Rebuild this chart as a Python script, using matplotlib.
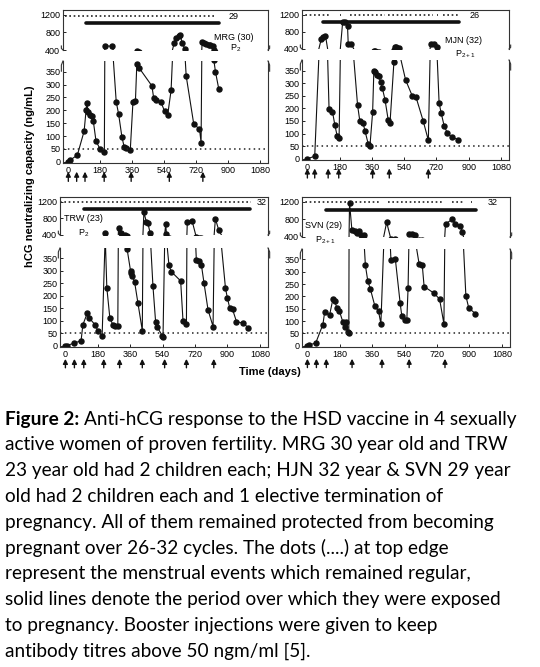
import matplotlib.pyplot as plt

plt.rcParams['font.family'] = ['Liberation Sans', 'DejaVu Sans']
plt.rcParams['mathtext.default'] = 'regular'

# ejes comunes
ticks_x = [0, 180, 360, 540, 720, 900, 1080]
ticks_bajo = [0, 50, 100, 150, 200, 250, 300, 350]
ticks_alto = [400, 800, 1200]

# MRG (30) - P2
mrg_dias = [0, 8, 51, 89, 100, 104, 112, 122, 132, 141, 156, 180, 203, 206, 245,
            270, 283, 302, 315, 325, 349, 364, 378, 386, 401, 471, 481, 494, 522,
            543, 560, 579, 597, 609, 622, 631, 641, 656, 664, 707, 739, 748, 754,
            763, 777, 792, 801, 814, 820, 829, 848]
mrg_vals = [0, 5, 26, 119, 200, 228, 192, 183, 178, 157, 80, 48, 38, 498, 483,
            232, 187, 96, 57, 55, 45, 231, 235, 382, 363, 295, 247, 241, 231,
            196, 183, 278, 566, 679, 717, 732, 566, 430, 334, 145, 128, 74, 581,
            558, 543, 521, 506, 483, 395, 350, 282]
mrg_refuerzos = [0, 47, 94, 202, 354, 569, 758]
mrg_menstruacion = [(-20, 830)]
mrg_expuesta = (100, 848)
mrg_ciclos = "29"

# MJN (32) - P2+1
mjn_dias = [0, 41, 78, 88, 101, 121, 140, 153, 166, 177, 197, 210, 224, 228, 246,
            280, 293, 311, 321, 339, 349, 364, 371, 380, 391, 398, 410, 418, 433,
            451, 461, 483, 487, 497, 510, 548, 586, 606, 647, 675, 688, 707, 722,
            735, 746, 763, 781, 806, 843]
mjn_vals = [0, 10, 640, 672, 712, 196, 187, 135, 91, 82, 1032, 1032, 936, 512, 512,
            213, 148, 141, 112, 60, 50, 184, 350, 343, 334, 327, 304, 281, 235,
            154, 141, 385, 440, 440, 430, 313, 248, 245, 148, 73, 520, 512, 440,
            222, 183, 131, 102, 85, 76]
mjn_refuerzos = [0, 41, 116, 175, 364, 457, 675]
mjn_menstruacion = [(-34, 125), (181, 187), (237, 433), (451, 582), (600, 703),
                    (722, 731), (759, 843)]
mjn_expuesta = (88, 847)
mjn_ciclos = "26"

# TRW (23) - P2
trw_dias = [0, 9, 50, 87, 97, 121, 130, 165, 180, 204, 221, 230, 247, 264, 277,
            291, 295, 310, 329, 343, 362, 366, 371, 384, 403, 427, 436, 449, 458,
            471, 486, 501, 510, 538, 542, 557, 561, 575, 588, 640, 653, 672, 677,
            703, 727, 742, 755, 770, 792, 820, 833, 852, 889, 900, 913, 928, 950,
            987, 1015]
trw_vals = [0, 1, 11, 20, 84, 130, 113, 84, 61, 41, 442, 233, 110, 84, 81,
            80, 568, 442, 408, 386, 299, 290, 280, 257, 170, 61, 947, 720, 678,
            442, 241, 95, 75, 40, 35, 653, 430, 323, 297, 260, 100, 87, 703,
            745, 345, 338, 325, 250, 144, 77, 787, 510, 230, 190, 150, 146, 97,
            90, 73]
trw_refuerzos = [0, 50, 102, 213, 301, 427, 551, 672, 824]
trw_menstruacion = [(-30, 1030)]
trw_expuesta = (102, 1025)
trw_ciclos = "32"

# SVN (29) - P2+1
svn_dias = [0, 7, 46, 86, 96, 123, 142, 151, 164, 178, 197, 206, 217, 224, 230,
            234, 247, 265, 276, 285, 298, 313, 322, 335, 350, 375, 395, 408, 440,
            464, 488, 515, 524, 543, 552, 559, 565, 583, 596, 620, 638, 648, 703,
            734, 758, 767, 804, 822, 850, 859, 880, 896, 933]
svn_vals = [0, 3, 11, 86, 137, 124, 190, 182, 153, 140, 96, 77, 96, 56, 51,
            1184, 560, 530, 480, 545, 450, 440, 326, 264, 229, 160, 140, 89, 735,
            346, 353, 173, 122, 106, 104, 233, 470, 465, 440, 333, 326, 240, 213,
            189, 89, 700, 800, 700, 660, 520, 202, 153, 130]
svn_refuerzos = [0, 50, 105, 248, 414, 565, 764]
svn_menstruacion = [(-33, 224), (243, 408), (445, 758), (804, 868), (909, 915)]
svn_expuesta = (105, 938)
svn_ciclos = "32"

W, H = 540, 667


def caja(l, t, r, b):
    return [l / W, 1 - b / H, (r - l) / W, (b - t) / H]


def marca_corte(ax, y, sentido):
    # pequeñas curvas donde se corta el eje
    for x, s in ((0, -1), (1, 1)):
        ax.plot([x, x + s * 0.008, x + s * 0.008], [y, y + sentido * 0.04, y + sentido * 0.1],
                transform=ax.transAxes, color='#333333', lw=0.8, clip_on=False)


def dibujar_panel(fig, rect_alto, rect_bajo, dias, vals, refuerzos, menstruacion,
                  expuesta, ciclos, y_menst, nombre, pos_nombre, paridad, pos_paridad,
                  flechas):
    ax_a = fig.add_axes(caja(*rect_alto))
    ax_b = fig.add_axes(caja(*rect_bajo))
    for ax in (ax_a, ax_b):
        ax.plot(dias, vals, color='#111111', lw=0.8, marker='o', ms=3.6,
                mfc='#111111', mec='#111111')
        ax.set_xlim(-30, 1125)
        for s in ax.spines.values():
            s.set_linewidth(0.8)
            s.set_color('#333333')
        ax.tick_params(direction='in', length=2, width=0.6, labelsize=6.5, pad=2)
    ax_a.set_ylim(400, 1310)
    ax_a.set_yticks(ticks_alto)
    ax_a.set_xticks([])
    ax_a.spines['bottom'].set_visible(False)
    ax_b.set_ylim(-5, 392)
    ax_b.set_yticks(ticks_bajo)
    ax_b.set_xticks(ticks_x)
    ax_b.spines['top'].set_visible(False)
    marca_corte(ax_a, 0, 1)
    marca_corte(ax_b, 1, -1)

    # umbral de 50 ng/mL
    ax_b.axhline(50, color='#222222', lw=1.1, ls=(0, (1, 2.2)))

    # eventos menstruales y periodo expuesto
    for ini, fin in menstruacion:
        ax_a.plot([ini, fin], [y_menst, y_menst], color='#222222', lw=1.2,
                  ls=(0, (1, 1.6)))
    ax_a.plot(expuesta, [1025, 1025], color='#111111', lw=2.6,
              solid_capstyle='round')
    ax_a.text(ciclos[1], y_menst, ciclos[0], fontsize=6.5, va='center',
              ha='left')
    ax_a.text(pos_nombre[0], pos_nombre[1], nombre, fontsize=6.5, va='center',
              ha='left', clip_on=False)
    ax_a.text(pos_paridad[0], pos_paridad[1], paridad, fontsize=6.5,
              va='center', ha='left', clip_on=False)

    # refuerzos (flechas)
    for d in refuerzos:
        ax_b.annotate('', xy=(d, flechas[0]), xytext=(d, flechas[1]),
                      xycoords=('data', 'axes fraction'),
                      textcoords=('data', 'axes fraction'),
                      arrowprops=dict(arrowstyle='-|>', color='#111111', lw=1.0,
                                      mutation_scale=7, shrinkA=0, shrinkB=0))


fig = plt.figure(figsize=(W / 100, H / 100), dpi=100)

dibujar_panel(fig, (63, 10, 268, 50), (63, 61, 268, 163), mrg_dias, mrg_vals,
              mrg_refuerzos, mrg_menstruacion, mrg_expuesta, (mrg_ciclos, 905),
              1170, "MRG (30)", (820, 680), "P$_2$", (912, 430), (-0.085, -0.18))
dibujar_panel(fig, (302, 10, 509, 49), (302, 60, 509, 160), mjn_dias, mjn_vals,
              mjn_refuerzos, mjn_menstruacion, mjn_expuesta, (mjn_ciclos, 905),
              1190, "MJN (32)", (768, 600), "P$_{2+1}$", (822, 280), (-0.085, -0.18))
dibujar_panel(fig, (60, 197, 268, 235), (60, 248, 268, 347), trw_dias, trw_vals,
              trw_refuerzos, trw_menstruacion, trw_expuesta, (trw_ciclos, 1060),
              1190, "TRW (23)", (-10, 800), "P$_2$", (70, 440), (-0.12, -0.21))
dibujar_panel(fig, (302, 197, 510, 237), (302, 249, 510, 347), svn_dias, svn_vals,
              svn_refuerzos, svn_menstruacion, svn_expuesta, (svn_ciclos, 1000),
              1190, "SVN (29)", (-15, 660), "P$_{2+1}$", (40, 320), (-0.12, -0.21))

fig.text(30 / W, 1 - 176 / H, "hCG neutralizing capacity (ng/mL)", rotation=90,
         ha='center', va='center', fontsize=8, weight='bold')
fig.text(270 / W, 1 - 372 / H, "Time (days)", ha='center', va='center',
         fontsize=8, weight='bold')

# pie de figura
lineas = [
    "Anti-hCG response to the HSD vaccine in 4 sexually",
    "active women of proven fertility. MRG 30 year old and TRW",
    "23 year old had 2 children each; HJN 32 year & SVN 29 year",
    "old had 2 children each and 1 elective termination of",
    "pregnancy. All of them remained protected from becoming",
    "pregnant over 26-32 cycles. The dots (....) at top edge",
    "represent the menstrual events which remained regular,",
    "solid lines denote the period over which they were exposed",
    "to pregnancy. Booster injections were given to keep",
    "antibody titres above 50 ngm/ml [5].",
]
fuente = ['Lato', 'DejaVu Sans']
tam = 13.7
x0 = 5 / W
t0 = fig.text(x0, 1 - 419 / H, "Figure 2:", fontsize=tam, weight='bold',
              family=fuente, va='center', ha='left')
fig.canvas.draw()
bb = t0.get_window_extent(renderer=fig.canvas.get_renderer())
for i, linea in enumerate(lineas):
    y = 1 - (419 + i * 25.8) / H
    if i == 0:
        fig.text((bb.x1 + 5) / W, y, linea, fontsize=tam, family=fuente,
                 va='center', ha='left')
    else:
        fig.text(x0, y, linea, fontsize=tam, family=fuente, va='center', ha='left')

plt.savefig("out.png", dpi=100)
